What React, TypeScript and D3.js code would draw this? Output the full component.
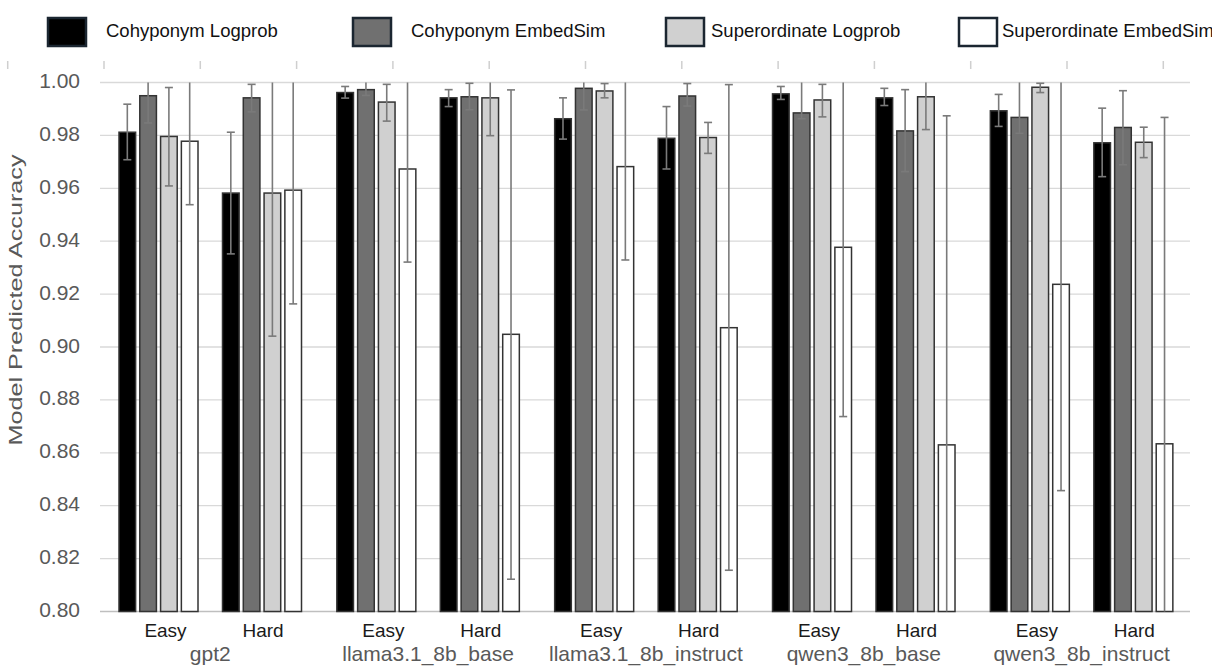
import React from "react";
import * as d3 from "d3";

const groups = ["gpt2", "llama3.1_8b_base", "llama3.1_8b_instruct", "qwen3_8b_base", "qwen3_8b_instruct"];
const levels = ["Easy", "Hard"];
const seriesNames = ["Cohyponym Logprob", "Cohyponym EmbedSim", "Superordinate Logprob", "Superordinate EmbedSim"];
const seriesFill = ["#000000", "#707070", "#d0d0d0", "#ffffff"];
const yTicks = [0.8, 0.82, 0.84, 0.86, 0.88, 0.9, 0.92, 0.94, 0.96, 0.98, 1.0];

// order: gpt2 Easy, gpt2 Hard, llama base Easy, Hard, llama instruct Easy, Hard, qwen base Easy, Hard, qwen instruct Easy, Hard
const cohypLogprob = [0.9812, 0.9582, 0.9962, 0.9942, 0.9863, 0.9789, 0.9957, 0.9942, 0.9893, 0.9772];
const cohypLogprobLow = [0.9708, 0.9352, 0.9941, 0.9909, 0.9786, 0.9673, 0.9936, 0.9913, 0.9834, 0.9644];
const cohypLogprobHigh = [0.9918, 0.9812, 0.9985, 0.9973, 0.9942, 0.9909, 0.9985, 0.9978, 0.9955, 0.9903];

const cohypEmbed = [0.995, 0.9942, 0.9973, 0.9946, 0.9978, 0.9949, 0.9885, 0.9817, 0.9868, 0.983];
const cohypEmbedLow = [0.9847, 0.9889, 0.9951, 0.9897, 0.9896, 0.9911, 0.9863, 0.9663, 0.9808, 0.9689];
const cohypEmbedHigh = [1.0053, 0.9993, 1.002, 0.9997, 1.006, 0.9996, 1.005, 0.9973, 1.003, 0.9969];

const superLogprob = [0.9796, 0.9582, 0.9926, 0.9942, 0.9968, 0.9792, 0.9934, 0.9946, 0.9982, 0.9774];
const superLogprobLow = [0.9609, 0.9041, 0.9854, 0.9799, 0.9942, 0.9732, 0.987, 0.9822, 0.9962, 0.9716];
const superLogprobHigh = [0.9981, 1.012, 0.9993, 1.008, 0.9996, 0.9849, 0.9993, 1.007, 0.9997, 0.9831];

const superEmbed = [0.9778, 0.9593, 0.9673, 0.9048, 0.9682, 0.9073, 0.9377, 0.863, 0.9237, 0.8634];
const superEmbedLow = [0.9538, 0.9163, 0.9321, 0.8122, 0.9329, 0.8156, 0.8737, 0.7386, 0.8457, 0.74];
const superEmbedHigh = [1.002, 1.002, 1.002, 0.9972, 1.003, 0.9992, 1.002, 0.9874, 1.002, 0.9868];

const seriesValues = [cohypLogprob, cohypEmbed, superLogprob, superEmbed];
const seriesLow = [cohypLogprobLow, cohypEmbedLow, superLogprobLow, superEmbedLow];
const seriesHigh = [cohypLogprobHigh, cohypEmbedHigh, superLogprobHigh, superEmbedHigh];

const W = 1212;
const H = 668;
const plotLeft = 100;
const plotRight = 1190;

export default function App() {
  const y = d3.scaleLinear().domain([0.8, 1.0]).range([611.5, 82.5]);
  const xGroup = d3.scalePoint<string>().domain(groups).range([210.25, 1081.6]);
  const xLevel = d3.scalePoint<string>().domain(levels).range([-51.75, 51.75]);
  const xSeries = d3.scaleBand<number>().domain([0, 1, 2, 3]).range([-39.5, 39.5]).paddingInner(0.2);
  const bw = xSeries.bandwidth();

  const cats = groups.flatMap((g) => levels.map((l) => ({ g, l, cx: (xGroup(g) as number) + (xLevel(l) as number) })));

  const topTicks = d3.range(13).map((i) => 7.7 + i * 96.3);
  const legendBoxX = [48, 353, 666, 959];
  const legendTextX = [106, 411, 711, 1002];

  const font = "'Liberation Sans', Arial, sans-serif";
  const clampY = (v: number) => y(Math.max(0.8, Math.min(1.0, v)));

  return (
    <svg width={W} height={H} style={{ position: "absolute", left: 0, top: 0, background: "#fff" }} fontFamily={font}>
      <rect x={0} y={0} width={W} height={H} fill="#fff" />
      {/* legend */}
      {seriesNames.map((s, i) => (
        <g key={s}>
          <rect x={legendBoxX[i]} y={18} width={38} height={28} fill={seriesFill[i]} stroke="#1b2631" strokeWidth={2.5} />
          <text x={legendTextX[i]} y={32} dominantBaseline="middle" fontSize={18.5} fill="#111">
            {s}
          </text>
        </g>
      ))}
      {/* top stub ticks */}
      {topTicks.map((t, i) => (
        <line key={i} x1={t} x2={t} y1={61} y2={69} stroke="#cfcfcf" strokeWidth={1.5} />
      ))}
      {/* gridlines */}
      {yTicks.map((t) => (
        <line key={t} x1={plotLeft} x2={plotRight} y1={y(t)} y2={y(t)} stroke={t === 0.8 ? "#bfbfbf" : "#d9d9d9"} strokeWidth={1.3} />
      ))}
      {/* y tick labels */}
      {yTicks.map((t) => (
        <text key={"l" + t} x={80} y={y(t)} textAnchor="end" dominantBaseline="middle" fontSize={21} fill="#595959">
          {t.toFixed(2)}
        </text>
      ))}
      {/* y label */}
      <text
        transform={`translate(22,300) rotate(-90)`}
        textAnchor="middle"
        fontSize={17.5}
        fill="#595959"
        textLength={291}
        lengthAdjust="spacingAndGlyphs"
      >
        Model Predicted Accuracy
      </text>
      {/* bars */}
      {seriesValues.map((vals, si) =>
        cats.map((c, ci) => {
          const x0 = c.cx + (xSeries(si) as number);
          return (
            <rect
              key={`b${si}-${ci}`}
              x={x0}
              y={y(vals[ci])}
              width={bw}
              height={y(0.8) - y(vals[ci])}
              fill={seriesFill[si]}
              stroke="#333"
              strokeWidth={1.5}
            />
          );
        })
      )}
      {/* error bars */}
      {seriesValues.map((vals, si) =>
        cats.map((c, ci) => {
          const xc = c.cx + (xSeries(si) as number) + bw / 2;
          const lo = seriesLow[si][ci];
          const hi = seriesHigh[si][ci];
          return (
            <g key={`e${si}-${ci}`} stroke="#7a7a7a" strokeWidth={1.6}>
              <line x1={xc} x2={xc} y1={clampY(lo)} y2={clampY(hi)} />
              {hi <= 1.0 && <line x1={xc - 4} x2={xc + 4} y1={y(hi)} y2={y(hi)} />}
              {lo >= 0.8 && <line x1={xc - 4} x2={xc + 4} y1={y(lo)} y2={y(lo)} />}
            </g>
          );
        })
      )}
      {/* category labels */}
      {cats.map((c, i) => (
        <text key={"c" + i} x={c.cx + (c.l === "Easy" ? 7 : 1)} y={637} textAnchor="middle" fontSize={19} fill="#1a1a1a">
          {c.l}
        </text>
      ))}
      {groups.map((g) => (
        <text key={g} x={xGroup(g) as number} y={661} textAnchor="middle" fontSize={21} fill="#595959">
          {g}
        </text>
      ))}
    </svg>
  );
}
